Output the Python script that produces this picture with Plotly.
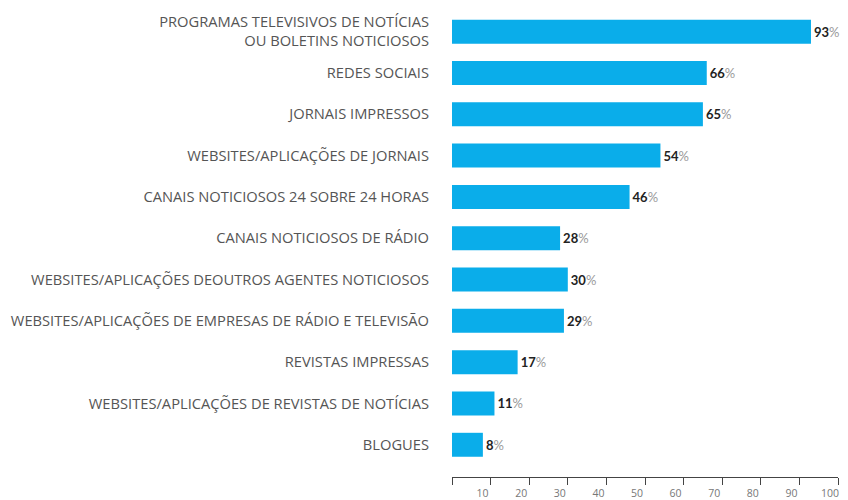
import plotly.graph_objects as go

categories = [
    "PROGRAMAS TELEVISIVOS DE NOTÍCIAS<br>OU BOLETINS NOTICIOSOS",
    "REDES SOCIAIS",
    "JORNAIS IMPRESSOS",
    "WEBSITES/APLICAÇÕES DE JORNAIS",
    "CANAIS NOTICIOSOS 24 SOBRE 24 HORAS",
    "CANAIS NOTICIOSOS DE RÁDIO",
    "WEBSITES/APLICAÇÕES DEOUTROS AGENTES NOTICIOSOS",
    "WEBSITES/APLICAÇÕES DE EMPRESAS DE RÁDIO E TELEVISÃO",
    "REVISTAS IMPRESSAS",
    "WEBSITES/APLICAÇÕES DE REVISTAS DE NOTÍCIAS",
    "BLOGUES",
]
values = [93, 66, 65, 54, 46, 28, 30, 29, 17, 11, 8]
tick_values = [0, 10, 20, 30, 40, 50, 60, 70, 80, 90, 100]
tick_labels = ["", "10", "20", "30", "40", "50", "60", "70", "80", "90", "100"]

fig = go.Figure(
    go.Bar(
        x=values,
        y=categories,
        orientation="h",
        marker=dict(color="#0AADEA", line=dict(width=0)),
        width=0.58,
        texttemplate="<b>%{x}</b><span style='color:#9a9a9a;font-weight:normal'>%</span>",
        textposition="outside",
        cliponaxis=False,
        textfont=dict(family="Lato", size=13, color="#222222"),
    )
)

fig.update_layout(
    width=848,
    height=500,
    margin=dict(l=444, r=18, t=3, b=31, autoexpand=False),
    plot_bgcolor="white",
    paper_bgcolor="white",
    showlegend=False,
    bargap=0.42,
)
fig.update_yaxes(
    range=[10.78, -0.5],
    automargin=False,
    showgrid=False,
    showline=False,
    zeroline=False,
    ticks="",
    ticklabelstandoff=22,
    tickfont=dict(family="Open Sans", size=14.7, color="#555555"),
)
fig.update_xaxes(
    range=[0, 100],
    automargin=False,
    tickvals=tick_values,
    ticktext=tick_labels,
    showgrid=False,
    zeroline=False,
    showline=True,
    linecolor="#444444",
    linewidth=1,
    ticks="outside",
    ticklen=7,
    tickcolor="#444444",
    tickwidth=1,
    ticklabelshift=-8,
    ticklabelstandoff=-1,
    tickfont=dict(family="Open Sans", size=10.5, color="#777777"),
)

fig.write_html("out.html")
